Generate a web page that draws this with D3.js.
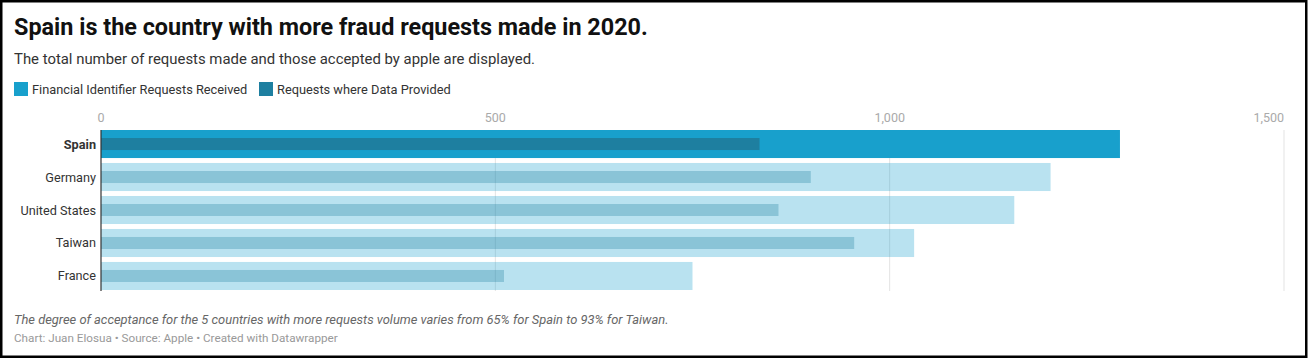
<!DOCTYPE html>
<html>
<head>
<meta charset="utf-8">
<script src="https://cdn.jsdelivr.net/npm/d3@7"></script>
<style>
  body { margin: 0; background: #fff; }
  svg { display: block; font-family: Roboto, "Noto Sans", sans-serif; }
</style>
</head>
<body>
<script>
const countries = ['Spain', 'Germany', 'United States', 'Taiwan', 'France'];
const received = [1292, 1204, 1158, 1031, 750];
const provided = [835, 900, 859, 955, 511];
const ticks = [0, 500, 1000, 1500];
const legendLabels = ['Financial Identifier Requests Received', 'Requests where Data Provided'];
const highlight = 'Spain';

const w = 1309;
const h = 360;
const colReceived = '#18a0cc';
const colProvided = '#1e7fa0';

const rows = countries.map((c, i) => ({ c, total: received[i], data: provided[i] }));

const x = d3.scaleLinear().domain([0, 1500]).range([101, 1284]);
const y = d3.scaleBand().domain(countries).range([130, 290]).paddingInner(0.15).paddingOuter(0);

const svg = d3.select('body').append('svg')
    .attr('width', w)
    .attr('height', h);

svg.append('rect')
    .attr('width', w).attr('height', h)
    .attr('fill', '#fff');

// title block
svg.append('text')
    .attr('x', 14).attr('y', 35)
    .attr('font-size', 23.4).attr('font-weight', 700)
    .attr('fill', '#111')
    .text('Spain is the country with more fraud requests made in 2020.');

svg.append('text')
    .attr('x', 14).attr('y', 64)
    .attr('font-size', 14.9)
    .attr('fill', '#333')
    .text('The total number of requests made and those accepted by apple are displayed.');

// legend
const leg = svg.append('g');
const legX = [14, 259];
leg.selectAll('rect')
    .data(legendLabels)
    .enter().append('rect')
    .attr('x', (d, i) => legX[i]).attr('y', 82)
    .attr('width', 14).attr('height', 14)
    .attr('fill', (d, i) => i === 0 ? colReceived : colProvided);
leg.selectAll('text')
    .data(legendLabels)
    .enter().append('text')
    .attr('x', (d, i) => legX[i] + 18).attr('y', 94)
    .attr('font-size', 12.8)
    .attr('fill', '#333')
    .text(d => d);

// grid + ticks
const grid = svg.append('g');
grid.selectAll('line')
    .data(ticks.filter(t => t > 0))
    .enter().append('line')
    .attr('x1', d => x(d)).attr('x2', d => x(d))
    .attr('y1', 130).attr('y2', 291)
    .attr('stroke', '#e3e3e3').attr('stroke-width', 1);

svg.append('g').selectAll('text')
    .data(ticks)
    .enter().append('text')
    .attr('x', d => x(d))
    .attr('y', 122)
    .attr('text-anchor', (d, i) => i === ticks.length - 1 ? 'end' : 'middle')
    .attr('font-size', 12.5)
    .attr('fill', '#aaa')
    .text(d3.format(','));

// bars
const bars = svg.append('g');
const rowG = bars.selectAll('g')
    .data(rows)
    .enter().append('g');

const op = d => d.c === highlight ? 1 : 0.3;

rowG.append('rect')
    .attr('x', x(0))
    .attr('y', d => y(d.c))
    .attr('width', d => x(d.total) - x(0))
    .attr('height', y.bandwidth())
    .attr('fill', colReceived)
    .attr('fill-opacity', op);

const inner = 12;
rowG.append('rect')
    .attr('x', x(0))
    .attr('y', d => y(d.c) + (y.bandwidth() - inner) / 2)
    .attr('width', d => x(d.data) - x(0))
    .attr('height', inner)
    .attr('fill', colProvided)
    .attr('fill-opacity', op);

// row labels
svg.append('g').selectAll('text')
    .data(rows)
    .enter().append('text')
    .attr('x', 96)
    .attr('y', d => y(d.c) + y.bandwidth() / 2 + 4.5)
    .attr('text-anchor', 'end')
    .attr('font-size', 12.7)
    .attr('font-weight', d => d.c === highlight ? 700 : 400)
    .attr('fill', '#333')
    .text(d => d.c);

// zero line
svg.append('line')
    .attr('x1', x(0)).attr('x2', x(0))
    .attr('y1', 130).attr('y2', 291)
    .attr('stroke', '#333').attr('stroke-width', 1.2);

// notes
svg.append('text')
    .attr('x', 14).attr('y', 324)
    .attr('font-size', 12.9).attr('font-style', 'italic')
    .attr('fill', '#666')
    .text('The degree of acceptance for the 5 countries with more requests volume varies from 65% for Spain to 93% for Taiwan.');

svg.append('text')
    .attr('x', 14).attr('y', 342)
    .attr('font-size', 11.7)
    .attr('fill', '#999')
    .text('Chart: Juan Elosua • Source: Apple • Created with Datawrapper');

// frame
svg.append('rect')
    .attr('x', 1.25).attr('y', 1.25)
    .attr('width', 1305).attr('height', 355.5)
    .attr('fill', 'none')
    .attr('stroke', '#000').attr('stroke-width', 2.5);
</script>
</body>
</html>
